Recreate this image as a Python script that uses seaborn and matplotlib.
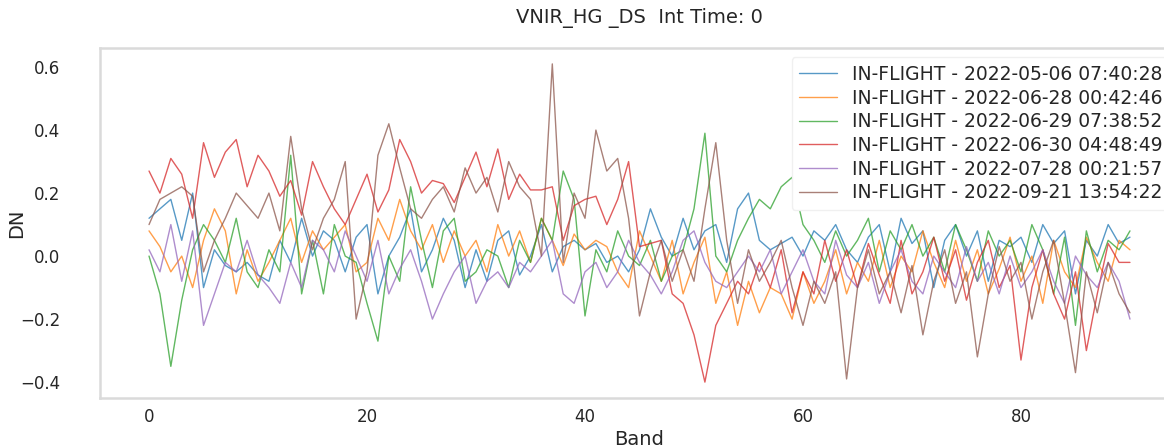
import numpy as np
import pandas as pd
import matplotlib
matplotlib.use("Agg")
import matplotlib.pyplot as plt
import seaborn as sns

bands = list(range(91))

labels = [
    "IN-FLIGHT - 2022-05-06 07:40:28",
    "IN-FLIGHT - 2022-06-28 00:42:46",
    "IN-FLIGHT - 2022-06-29 07:38:52",
    "IN-FLIGHT - 2022-06-30 04:48:49",
    "IN-FLIGHT - 2022-07-28 00:21:57",
    "IN-FLIGHT - 2022-09-21 13:54:22",
]

dn_0506 = [0.12, 0.15, 0.18, 0.05, 0.20, -0.10, 0.02, -0.03, -0.05, -0.02,
           -0.06, -0.08, 0.05, -0.02, 0.12, 0.00, 0.08, 0.05, -0.05, 0.06,
           0.10, -0.12, 0.00, 0.06, 0.15, -0.05, 0.02, 0.12, 0.05, -0.10,
           0.02, -0.08, 0.05, 0.08, -0.06, 0.00, 0.10, -0.05, 0.03, 0.05,
           0.02, 0.04, -0.02, 0.00, -0.05, 0.02, 0.15, 0.06, 0.00, 0.12,
           0.02, 0.08, 0.10, -0.02, 0.15, 0.20, 0.05, 0.02, 0.04, 0.06,
           0.00, 0.08, 0.05, 0.10, 0.02, -0.02, 0.06, 0.10, -0.05, 0.12,
           0.04, 0.08, -0.10, 0.05, 0.10, 0.00, 0.08, -0.08, 0.05, 0.03,
           0.06, -0.02, 0.10, 0.04, 0.08, -0.12, 0.05, 0.00, 0.10, 0.04,
           0.06]

dn_0628 = [0.08, 0.03, -0.05, 0.00, -0.10, 0.05, 0.15, 0.08, -0.12, 0.02,
           -0.08, -0.02, 0.05, 0.12, -0.02, 0.08, 0.02, 0.06, 0.10, -0.05,
           -0.02, 0.12, 0.05, 0.18, 0.08, 0.02, 0.10, -0.02, 0.08, 0.00,
           0.05, -0.05, 0.10, 0.00, 0.08, -0.02, 0.12, 0.05, -0.03, 0.07,
           0.02, 0.05, 0.03, -0.05, -0.10, 0.08, 0.00, -0.08, 0.05, -0.12,
           -0.02, 0.06, -0.15, -0.05, -0.22, -0.08, -0.18, -0.10, -0.12, -0.20,
           -0.05, -0.15, -0.08, 0.02, -0.12, -0.02, -0.08, 0.05, -0.10, 0.00,
           -0.05, 0.08, -0.02, -0.10, 0.05, -0.08, 0.02, -0.12, -0.04, 0.06,
           -0.08, 0.00, -0.15, 0.05, -0.05, -0.10, 0.06, -0.02, -0.08, 0.05,
           0.02]

dn_0629 = [0.00, -0.12, -0.35, -0.14, 0.02, 0.10, 0.05, -0.02, 0.12, -0.05,
           -0.10, 0.02, -0.05, 0.32, -0.12, 0.05, -0.12, 0.10, 0.00, -0.02,
           -0.15, -0.27, 0.00, -0.08, 0.22, 0.05, -0.10, 0.08, 0.12, -0.08,
           -0.05, 0.02, 0.00, -0.10, 0.05, -0.02, 0.12, 0.05, 0.27, 0.18,
           -0.19, 0.02, -0.05, 0.08, 0.00, -0.03, 0.05, -0.08, 0.00, 0.02,
           0.15, 0.39, 0.00, -0.05, 0.05, 0.12, 0.18, 0.15, 0.22, 0.25,
           0.10, 0.05, -0.02, 0.08, 0.00, 0.05, 0.12, -0.05, 0.08, 0.02,
           0.10, 0.00, 0.06, -0.05, 0.10, 0.02, -0.08, 0.08, 0.00, 0.05,
           -0.05, 0.10, 0.02, -0.12, 0.06, -0.22, 0.08, -0.05, 0.05, 0.02,
           0.08]

dn_0630 = [0.27, 0.20, 0.31, 0.26, 0.12, 0.36, 0.25, 0.33, 0.37, 0.22,
           0.32, 0.27, 0.19, 0.24, 0.13, 0.30, 0.22, 0.15, 0.10, 0.18,
           0.26, 0.14, 0.21, 0.37, 0.30, 0.20, 0.24, 0.23, 0.17, 0.25,
           0.33, 0.22, 0.34, 0.18, 0.26, 0.21, 0.21, 0.22, 0.05, 0.16,
           0.18, 0.19, 0.10, 0.18, 0.30, 0.03, 0.04, 0.05, -0.12, -0.15,
           -0.25, -0.40, -0.22, -0.15, -0.08, -0.12, -0.02, -0.10, 0.02, -0.18,
           -0.05, -0.12, 0.05, -0.08, 0.02, -0.10, 0.04, -0.06, -0.15, 0.05,
           -0.12, -0.05, 0.06, -0.08, 0.02, -0.14, -0.02, 0.05, -0.10, -0.03,
           -0.33, -0.10, 0.02, -0.12, -0.20, -0.05, -0.30, -0.12, 0.04, -0.02,
           -0.02]

dn_0728 = [0.02, -0.05, 0.10, -0.08, 0.08, -0.22, -0.12, -0.02, -0.05, 0.05,
           -0.06, -0.10, -0.15, -0.02, -0.10, 0.05, 0.02, -0.05, 0.08, 0.00,
           -0.08, 0.05, -0.12, -0.04, 0.02, -0.08, -0.20, -0.12, -0.05, 0.00,
           -0.15, -0.08, -0.05, -0.10, -0.02, -0.05, 0.00, 0.05, -0.12, -0.15,
           -0.05, -0.02, -0.10, -0.05, 0.05, -0.02, -0.06, -0.12, -0.05, 0.05,
           0.08, -0.02, -0.08, -0.10, -0.05, 0.00, -0.05, 0.02, -0.12, -0.05,
           0.02, -0.08, -0.12, 0.05, -0.06, -0.10, -0.02, -0.15, -0.05, 0.02,
           -0.08, -0.12, 0.00, -0.05, -0.10, 0.03, -0.08, -0.02, -0.12, 0.00,
           -0.10, -0.05, 0.02, -0.08, -0.15, 0.00, -0.06, -0.10, -0.02, -0.08,
           -0.20]

dn_0921 = [0.10, 0.18, 0.20, 0.22, 0.19, -0.05, 0.05, 0.12, 0.20, 0.16,
           0.12, 0.20, 0.08, 0.38, 0.15, 0.02, 0.12, 0.18, 0.30, -0.20,
           -0.05, 0.32, 0.42, 0.28, 0.15, 0.12, 0.18, 0.22, 0.14, 0.28,
           0.20, 0.25, 0.14, 0.30, 0.22, 0.18, 0.00, 0.61, -0.02, 0.20,
           0.12, 0.40, 0.27, 0.31, 0.12, -0.19, -0.05, 0.05, -0.08, 0.02,
           -0.08, 0.15, 0.36, 0.05, -0.15, 0.02, -0.08, -0.02, 0.05, -0.10,
           -0.22, -0.08, -0.15, -0.05, -0.39, -0.10, 0.02, -0.12, -0.05, -0.18,
           -0.03, -0.25, -0.08, 0.02, -0.15, -0.05, -0.32, -0.12, 0.03, -0.08,
           -0.02, -0.20, -0.05, 0.05, -0.15, -0.37, -0.05, -0.18, -0.02, -0.12,
           -0.18]

series = [dn_0506, dn_0628, dn_0629, dn_0630, dn_0728, dn_0921]

df = pd.concat(
    [pd.DataFrame({"Band": bands, "DN": vals, "run": lab}) for lab, vals in zip(labels, series)],
    ignore_index=True,
)

sns.set_style("white")
fig = plt.figure(figsize=(11.64, 4.47), dpi=100)
ax = fig.add_axes([0.0859, 0.1096, 0.927, 0.783])

sns.lineplot(data=df, x="Band", y="DN", hue="run", palette="tab10",
             linewidth=1.0, alpha=0.75, ax=ax)

for sp in ax.spines.values():
    sp.set_color("#dadada")
    sp.set_linewidth(1.8)

ax.set_title("VNIR_HG _DS  Int Time: 0", fontsize=14, pad=18)
ax.set_xlabel("Band", fontsize=14, labelpad=3)
ax.set_ylabel("DN", fontsize=14)
ax.yaxis.set_label_coords(-0.068, 0.5)
ax.tick_params(axis="both", labelsize=12)
ax.tick_params(axis="y", pad=25)
ax.set_yticks([-0.4, -0.2, 0.0, 0.2, 0.4, 0.6])
ax.set_xticks([0, 20, 40, 60, 80])

leg = ax.legend(loc="upper right", fontsize=13.5, labelspacing=0.25,
                frameon=True, framealpha=1, edgecolor="#f0f0f0")

fig.savefig("out.png", dpi=100)
